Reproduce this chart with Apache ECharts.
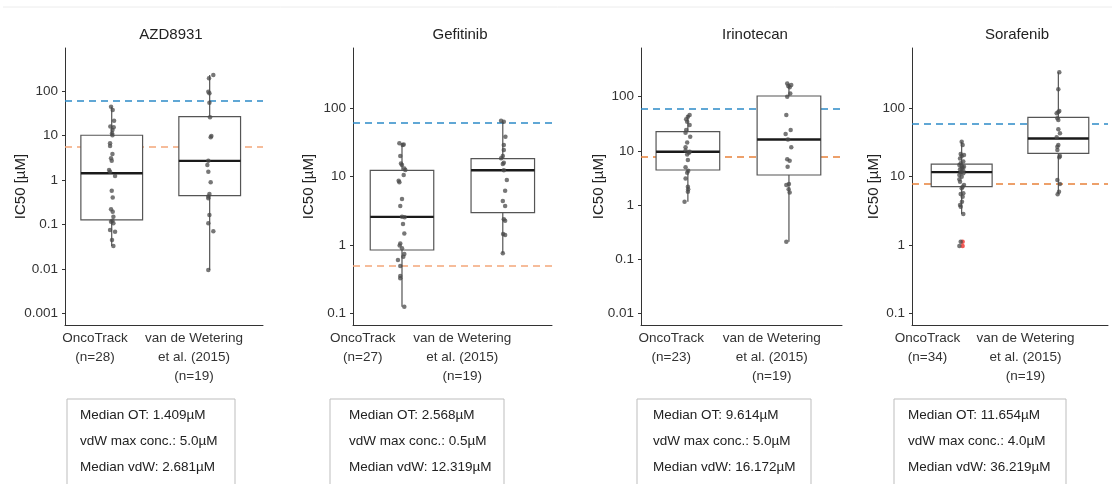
<!DOCTYPE html>
<html>
<head>
<meta charset="utf-8">
<script src="https://cdn.jsdelivr.net/npm/echarts@6/dist/echarts.min.js"></script>
<style>
html, body { margin: 0; padding: 0; background: #fff; }
#box1 { width: 1112px; height: 484px; }
</style>
</head>
<body>
<div id="box1"></div>
<script>
var myChart = echarts.init(document.getElementById('box1'));

// ---- data ----
var drugs = ['AZD8931', 'Gefitinib', 'Irinotecan', 'Sorafenib'];
var groupNames = ['OncoTrack', 'van de Wetering\net al. (2015)'];
var groupCounts = [[28, 19], [27, 19], [23, 19], [34, 19]];
var yTicks = [
    [0.001, 0.01, 0.1, 1, 10, 100],
    [0.1, 1, 10, 100],
    [0.01, 0.1, 1, 10, 100],
    [0.1, 1, 10, 100]
];
var maxConcOT = [60, 60, 60, 60];
var maxConcVdW = [5.6, 0.5, 8, 8];
var medianOTText = ['1.409', '2.568', '9.614', '11.654'];
var vdwMaxText = ['5.0', '0.5', '5.0', '4.0'];
var medianVdWText = ['2.681', '12.319', '16.172', '36.219'];

// [min, q1, median, q3, max]
var boxOT = [
    [0.0327, 0.126, 1.409, 10.1, 44.5],
    [0.125, 0.841, 2.568, 12.3, 30.5],
    [1.15, 4.43, 9.614, 22.6, 45.9],
    [2.84, 7.14, 11.654, 15.3, 32.5]
];
var boxVdW = [
    [0.0094, 0.443, 2.681, 26.5, 229],
    [0.752, 2.96, 12.319, 18.2, 65.3],
    [0.21, 3.58, 16.172, 103, 176],
    [5.51, 21.9, 36.219, 73.8, 336]
];

var azdOT = [44.4, 37.4, 21.5, 15.8, 15.2, 13.3, 11.2, 10.1, 6.65, 5.8, 3.83, 3.06, 2.71, 1.67, 1.53, 1.22, 0.574, 0.40, 0.218, 0.193, 0.149, 0.121, 0.115, 0.106, 0.0748, 0.0687, 0.0446, 0.0327];
var azdOTJit = [-0.007, 0.01, 0.024, -0.014, 0.02, 0.007, 0.003, 0.007, -0.017, -0.017, 0.007, -0.007, 0, -0.027, -0.017, 0.034, 0, 0.01, -0.007, 0.01, 0.017, 0.007, -0.007, 0.017, -0.017, 0.034, 0.003, 0.017];
var azdVdW = [229, 193, 96.6, 88.7, 54.7, 25.6, 9.72, 9.08, 2.71, 2.17, 1.53, 0.883, 0.483, 0.421, 0.386, 0.163, 0.106, 0.0698, 0.0094];
var azdVdWJit = [0.037, -0.007, -0.014, -0.003, -0.003, 0.003, 0.017, 0.01, -0.014, -0.024, -0.014, 0.01, -0.003, -0.014, -0.014, -0.003, -0.014, 0.037, -0.014];

var gefOT = [30.5, 29.4, 28.8, 19.9, 15.5, 14.7, 13.1, 12.4, 10.5, 8.67, 8.2, 4.68, 3.70, 2.57, 2.53, 2.02, 1.47, 1.05, 0.98, 0.889, 0.736, 0.673, 0.601, 0.491, 0.351, 0.324, 0.125];
var gefOTJit = [-0.026, 0.017, 0.007, -0.017, -0.01, 0, 0.023, 0.033, 0.017, -0.033, -0.026, 0, -0.017, 0, 0.026, 0.01, 0.023, -0.017, -0.023, 0, 0.023, 0.013, -0.04, -0.017, -0.017, -0.017, 0.023];
var gefVdW = [65.3, 63.1, 38.1, 28.8, 24.3, 19.9, 18.4, 15.9, 15.2, 12.3, 8.87, 6.19, 4.37, 3.70, 2.36, 2.26, 1.44, 1.39, 0.752];
var gefVdWJit = [-0.017, 0.01, 0.026, 0.01, 0.01, 0, -0.017, 0.01, 0, 0.01, 0.04, 0.023, 0, 0.023, 0.01, 0.023, 0.003, 0.023, 0];

var iriOT = [45.9, 42.7, 38.2, 34.5, 30.0, 24.2, 21.6, 18.3, 14.2, 11.6, 10.1, 9.61, 9.25, 8.6, 6.77, 4.96, 4.30, 3.95, 3.10, 2.18, 1.95, 1.76, 1.15];
var iriOTJit = [0.017, 0, -0.017, -0.007, 0.017, -0.017, -0.023, 0.023, -0.007, -0.023, -0.023, 0.017, 0.01, -0.007, 0, -0.023, 0.003, -0.007, -0.023, 0, 0.003, 0, -0.033];
var iriVdW = [176, 164, 157, 149, 115, 100, 45.9, 24.2, 20.5, 16.2, 11.6, 6.97, 6.58, 5.10, 2.44, 2.34, 1.95, 1.71, 0.21];
var iriVdWJit = [-0.017, 0.023, -0.007, 0.007, 0.013, -0.017, -0.026, 0.017, -0.033, -0.01, 0.023, -0.017, 0.007, -0.013, 0, -0.026, -0.003, 0.007, -0.026];

var sorOT = [32.5, 29.1, 21.5, 20.8, 20.1, 18.5, 16.6, 15.7, 14.8, 14.3, 14.0, 13.7, 13.2, 12.8, 12.2, 11.8, 11.5, 11.2, 10.6, 10.0, 9.14, 8.45, 7.55, 7.14, 6.75, 5.70, 5.58, 5.10, 4.31, 3.85, 3.64, 2.84, 1.12, 0.966];
var sorOTJit = [0, 0.01, -0.01, 0.024, 0, -0.017, 0.017, -0.01, -0.024, 0, 0.024, 0.01, 0, -0.017, 0.017, 0, -0.01, 0.017, -0.024, 0, -0.024, -0.017, 0.024, 0.01, 0, 0.017, -0.01, 0.01, 0.003, -0.017, -0.01, 0.017, -0.01, -0.024];
var sorVdW = [336, 190, 91.4, 88.4, 84.5, 71.4, 67.4, 49.3, 43.1, 37.6, 29.1, 27.5, 24.5, 20.1, 19.2, 8.93, 7.81, 6.03, 5.51];
var sorVdWJit = [0.01, 0, 0.01, 0, -0.017, -0.01, 0, 0, 0.017, -0.017, 0, -0.01, -0.01, 0.017, 0.01, -0.01, 0.017, 0.007, -0.007];
var sorOutliers = [1.12, 0.966];

var pointsOT = [azdOT, gefOT, iriOT, sorOT];
var jitOT = [azdOTJit, gefOTJit, iriOTJit, sorOTJit];
var pointsVdW = [azdVdW, gefVdW, iriVdW, sorVdW];
var jitVdW = [azdVdWJit, gefVdWJit, iriVdWJit, sorVdWJit];
var outliersOT = [[], [], [], sorOutliers];

// ---- layout ----
var panels = [
    { left: 65, width: 198, yMin: -3.263, yMax: 2.967, xMin: -0.477, xMax: 1.544, pad: 39, nameGap: 37, titleX: 166, boxX: 67, boxW: 168, textX: 80 },
    { left: 353, width: 199, yMin: -1.171, yMax: 2.877, xMin: -0.486, xMax: 1.488, pad: 80, nameGap: 37, titleX: 455, boxX: 330, boxW: 174, textX: 349 },
    { left: 641, width: 201, yMin: -2.216, yMax: 2.899, xMin: -0.464, xMax: 1.525, pad: 40, nameGap: 35, titleX: 750, boxX: 637, boxW: 174, textX: 653 },
    { left: 912, width: 196, yMin: -1.171, yMax: 2.883, xMin: -0.514, xMax: 1.514, pad: 67, nameGap: 31, titleX: 1012, boxX: 894, boxW: 172, textX: 908 }
];
var blue = '#2c8bc8';
var orange = ['#f3a67a', '#f3a67a', '#e8813a', '#e8813a'];
var font = 'Liberation Sans, Arial, sans-serif';
var lg = Math.log10;

function tickLabel(v) {
    return String(Math.round(Math.pow(10, v) * 1000) / 1000);
}

function renderBox(params, api) {
    var x = api.value(0);
    var lo = api.coord([x, api.value(1)]);
    var q1 = api.coord([x, api.value(2)]);
    var md = api.coord([x, api.value(3)]);
    var q3 = api.coord([x, api.value(4)]);
    var hi = api.coord([x, api.value(5)]);
    var w = api.size([1, 0])[0] * 0.63;
    var cx = md[0];
    return {
        type: 'group',
        children: [
            { type: 'line', shape: { x1: cx, y1: hi[1], x2: cx, y2: q3[1] }, style: { stroke: '#444', lineWidth: 1.1 } },
            { type: 'line', shape: { x1: cx, y1: q1[1], x2: cx, y2: lo[1] }, style: { stroke: '#444', lineWidth: 1.1 } },
            { type: 'rect', shape: { x: cx - w / 2, y: q3[1], width: w, height: q1[1] - q3[1] }, style: { fill: '#fff', stroke: '#555', lineWidth: 1.2 } },
            { type: 'line', shape: { x1: cx - w / 2, y1: md[1], x2: cx + w / 2, y2: md[1] }, style: { stroke: '#1a1a1a', lineWidth: 2.4 } }
        ]
    };
}

var titles = [], grids = [], xAxes = [], yAxes = [], series = [], graphics = [];

graphics.push({ type: 'line', shape: { x1: 3, y1: 7, x2: 1112, y2: 7 }, style: { stroke: '#ececec', lineWidth: 1 } });

drugs.forEach(function (drug, p) {
    var L = panels[p];
    titles.push({
        text: drug, left: L.titleX, top: 22, textAlign: 'center',
        textStyle: { fontFamily: font, fontSize: 15, fontWeight: 'normal', color: '#222' }
    });
    grids.push({ left: L.left, top: 48, width: L.width, height: 277, containLabel: false, outerBoundsMode: 'none' });
    xAxes.push({
        type: 'category', gridIndex: p,
        data: [groupNames[0] + '\n(n=' + groupCounts[p][0] + ')', groupNames[1] + '\n(n=' + groupCounts[p][1] + ')'],
        axisLine: { onZero: false, lineStyle: { color: '#333', width: 1 } },
        axisTick: { show: false },
        axisLabel: { interval: 0, hideOverlap: false, fontFamily: font, fontSize: 13.5, lineHeight: 19, color: '#333', margin: 4, padding: [0, L.pad, 0, 0] },
        splitLine: { show: false }
    });
    xAxes.push({ type: 'value', gridIndex: p, show: false, min: L.xMin, max: L.xMax });
    var tv = yTicks[p].map(lg);
    yAxes.push({
        type: 'value', gridIndex: p, min: L.yMin, max: L.yMax,
        name: 'IC50 [µM]', nameLocation: 'middle', nameGap: L.nameGap, nameMoveOverlap: false,
        nameTextStyle: { fontFamily: font, fontSize: 15, color: '#222' },
        axisLine: { show: true, onZero: false, lineStyle: { color: '#333', width: 1 } },
        axisTick: { show: true, length: 3, customValues: tv, lineStyle: { color: '#333' } },
        axisLabel: { customValues: tv, formatter: tickLabel, fontFamily: font, fontSize: 13.5, color: '#333', margin: 7 },
        splitLine: { show: false }
    });
    var xi = 2 * p + 1;
    series.push({
        type: 'line', xAxisIndex: xi, yAxisIndex: p, data: [], silent: true,
        markLine: {
            silent: true, z: 1, symbol: ['none', 'none'], label: { show: false },
            lineStyle: { type: [7, 5], width: 1.7 },
            data: [
                { yAxis: lg(maxConcOT[p]), lineStyle: { color: blue } },
                { yAxis: lg(maxConcVdW[p]), lineStyle: { color: orange[p] } }
            ]
        }
    });
    series.push({
        type: 'custom', xAxisIndex: xi, yAxisIndex: p, z: 2, silent: true,
        renderItem: renderBox,
        encode: { x: 0, y: [1, 2, 3, 4, 5] },
        data: [[0].concat(boxOT[p].map(lg)), [1].concat(boxVdW[p].map(lg))]
    });
    if (outliersOT[p].length) {
        series.push({
            type: 'scatter', xAxisIndex: xi, yAxisIndex: p, z: 3, silent: true,
            symbolSize: 4.5, itemStyle: { color: '#f0302a' },
            data: outliersOT[p].map(function (v) { return [0.01, lg(v)]; })
        });
    }
    series.push({
        type: 'scatter', xAxisIndex: xi, yAxisIndex: p, z: 4, silent: true,
        symbolSize: 4.5, itemStyle: { color: '#4a4a4a', opacity: 0.75 },
        data: pointsOT[p].map(function (v, i) { return [jitOT[p][i], lg(v)]; })
            .concat(pointsVdW[p].map(function (v, i) { return [1 + jitVdW[p][i], lg(v)]; }))
    });
    graphics.push({
        type: 'rect', shape: { x: L.boxX, y: 399, width: L.boxW, height: 100 },
        style: { fill: '#fff', stroke: '#bdbdbd', lineWidth: 1 }
    });
    graphics.push({
        type: 'text', x: L.textX, y: 402.7,
        style: {
            text: 'Median OT: ' + medianOTText[p] + 'µM\nvdW max conc.: ' + vdwMaxText[p] + 'µM\nMedian vdW: ' + medianVdWText[p] + 'µM',
            font: '13.5px ' + font, fill: '#222', lineHeight: 26, verticalAlign: 'top'
        }
    });
});

option = {
    animation: false,
    backgroundColor: '#fff',
    title: titles,
    grid: grids,
    xAxis: xAxes,
    yAxis: yAxes,
    series: series,
    graphic: graphics
};
myChart.setOption(option);
</script>
</body>
</html>
